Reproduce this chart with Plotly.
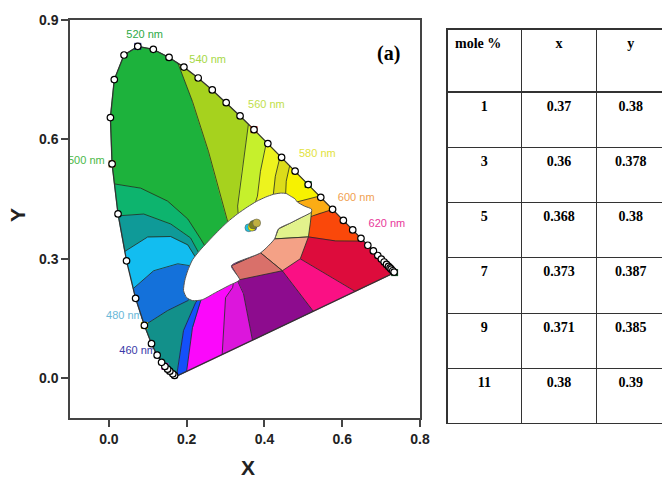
import numpy as np
import plotly.graph_objects as go

# ---------------- CIE 1931 spectral locus ----------------
LOCUS_WL = [380, 385, 390, 395, 400, 405, 410, 415, 420, 425, 430, 435, 440, 445, 450, 455,
            460, 465, 470, 475, 480, 485, 490, 495, 500, 505, 510, 515, 520, 525, 530, 535,
            540, 545, 550, 555, 560, 565, 570, 575, 580, 585, 590, 595, 600, 605, 610, 615,
            620, 625, 630, 635, 640, 645, 650, 655, 660, 665, 670, 675, 680, 685, 690, 695, 700]
LOCUS_X = [0.1741, 0.1740, 0.1738, 0.1736, 0.1733, 0.1730, 0.1726, 0.1721, 0.1714, 0.1703,
           0.1689, 0.1669, 0.1644, 0.1611, 0.1566, 0.1510, 0.1440, 0.1355, 0.1241, 0.1096,
           0.0913, 0.0687, 0.0454, 0.0235, 0.0082, 0.0039, 0.0139, 0.0389, 0.0743, 0.1142,
           0.1547, 0.1929, 0.2296, 0.2658, 0.3016, 0.3373, 0.3731, 0.4087, 0.4441, 0.4788,
           0.5125, 0.5448, 0.5752, 0.6029, 0.6270, 0.6482, 0.6658, 0.6801, 0.6915, 0.7006,
           0.7079, 0.7140, 0.7190, 0.7230, 0.7260, 0.7283, 0.7300, 0.7311, 0.7320, 0.7327,
           0.7334, 0.7340, 0.7344, 0.7346, 0.7347]
LOCUS_Y = [0.0050, 0.0050, 0.0049, 0.0049, 0.0048, 0.0048, 0.0048, 0.0048, 0.0051, 0.0058,
           0.0069, 0.0086, 0.0109, 0.0138, 0.0177, 0.0227, 0.0297, 0.0399, 0.0578, 0.0868,
           0.1327, 0.2007, 0.2950, 0.4127, 0.5384, 0.6548, 0.7502, 0.8120, 0.8338, 0.8262,
           0.8059, 0.7816, 0.7543, 0.7243, 0.6923, 0.6589, 0.6245, 0.5896, 0.5547, 0.5202,
           0.4866, 0.4544, 0.4242, 0.3965, 0.3725, 0.3514, 0.3340, 0.3197, 0.3083, 0.2993,
           0.2920, 0.2859, 0.2809, 0.2770, 0.2740, 0.2717, 0.2700, 0.2689, 0.2680, 0.2673,
           0.2666, 0.2660, 0.2656, 0.2654, 0.2653]

# markers along the locus
MARKER_WL = [430, 440, 450, 455, 460, 465, 470, 475, 480, 485, 490, 495, 500, 505, 510, 515,
             520, 525, 530, 535, 540, 545, 550, 555, 560, 565, 570, 575, 580, 585, 590, 595,
             600, 605, 610, 615, 620, 625, 630, 635, 640, 645, 650, 660, 680]
SPECIAL_WL = [460, 480, 500, 520, 560, 580, 700]
SPECIAL_COLORS = ["#ff10ff", "#e8e800", "#b07820", "#20208a", "#c02020", "#208040", "#105a25"]

# wavelength labels
LABEL_TEXT = ["520 nm", "540 nm", "560 nm", "580 nm", "600 nm", "620 nm", "500 nm", "480 nm", "460 nm"]
LABEL_X = [0.092, 0.254, 0.405, 0.536, 0.636, 0.715, -0.058, 0.040, 0.074]
LABEL_Y = [0.862, 0.800, 0.685, 0.562, 0.452, 0.388, 0.545, 0.155, 0.068]
LABEL_COLORS = ["#2eaa46", "#a6d846", "#bfe04a", "#e2e23c", "#f0a050", "#e8389a", "#4cb848",
                "#6ab8d8", "#3a3aa8"]

# ---------------- colour-name regions ----------------
# start of each region border on the outline (nm on the locus; 700-800 = along the purple line)
BORDER_START = [380, 480, 486.3, 491, 494.8, 498, 533, 558, 564.5, 569.5, 573, 584.5, 590, 607,
                718.1, 737.3, 765.2, 779.1, 795.4]
BORDER_PATHS = [
    [(0.192, 0.120), (0.223, 0.190)],
    [(0.151, 0.170), (0.203, 0.195)],
    [(0.115, 0.270), (0.177, 0.2875), (0.210, 0.2825)],
    [(0.100, 0.355), (0.159, 0.356), (0.203, 0.335), (0.222, 0.305)],
    [(0.0897, 0.4125), (0.159, 0.3875), (0.210, 0.3525), (0.231, 0.315)],
    [(0.082, 0.4775), (0.151, 0.445), (0.203, 0.400), (0.236, 0.350), (0.251, 0.325)],
    [(0.215, 0.695), (0.256, 0.570), (0.287, 0.4575), (0.305, 0.395)],
    [(0.3436, 0.5325), (0.331, 0.4325)],
    [(0.3897, 0.520), (0.382, 0.4575)],
    [(0.428, 0.5075), (0.423, 0.4625)],
    [(0.456, 0.495), (0.454, 0.4525)],
    [(0.505, 0.4475), (0.472, 0.440)],
    [(0.544, 0.415), (0.523, 0.4075)],
    [(0.582, 0.345), (0.513, 0.355)],
    [(0.492, 0.300)],
    [(0.446, 0.270)],
    [(0.346, 0.2125), (0.333, 0.240)],
    [(0.300, 0.2025), (0.318, 0.2275)],
    [(0.215, 0.1275), (0.236, 0.195)],
]
REGION_COLORS = ["#12908a", "#1471da", "#12bdf0", "#0f9a98", "#0db46e", "#1db23c", "#a6d21e",
                 "#c6f02c", "#edf31e", "#dcdc1a", "#f7f200", "#fbac14", "#fa480a", "#dd0c3c",
                 "#fa1084", "#8d0c8e", "#dc16dc", "#fb08fb", "#1450fa"]
HUB = (0.338, 0.325)

PALE_X = [0.426, 0.436, 0.467, 0.492, 0.521, 0.518, 0.513]
PALE_Y = [0.350, 0.375, 0.390, 0.4025, 0.4175, 0.390, 0.355]
PEACH_X = [0.390, 0.426, 0.513, 0.492, 0.446]
PEACH_Y = [0.315, 0.350, 0.355, 0.300, 0.270]
SALMON_X = [0.315, 0.390, 0.446, 0.336]
SALMON_Y = [0.2825, 0.315, 0.270, 0.2475]

BLOB_X = [0.215, 0.200, 0.192, 0.195, 0.2026, 0.215, 0.233, 0.254, 0.279, 0.305, 0.331, 0.356,
          0.380, 0.403, 0.423, 0.441, 0.456, 0.467, 0.478, 0.485, 0.5026,
          0.521, 0.521, 0.492, 0.467, 0.436, 0.426, 0.390, 0.315, 0.336, 0.308, 0.274, 0.240]
BLOB_Y = [0.195, 0.2025, 0.220, 0.245, 0.270, 0.2975, 0.320, 0.3425, 0.368, 0.3925, 0.413, 0.430,
          0.4445, 0.455, 0.462, 0.465, 0.464, 0.4575, 0.451, 0.4425, 0.4325,
          0.425, 0.4175, 0.4025, 0.390, 0.375, 0.350, 0.315, 0.2825, 0.2475, 0.2325,
          0.215, 0.197]

# ---------------- table ----------------
MOLE_PCT = ["1", "3", "5", "7", "9", "11"]
CIE_X = ["0.37", "0.36", "0.368", "0.373", "0.371", "0.38"]
CIE_Y = ["0.38", "0.378", "0.38", "0.387", "0.385", "0.39"]
POINT_COLORS = ["#1428ff", "#20c0e0", "#f0f000", "#30a030", "#808020", "#c0b040"]


def outline_point(s):
    if s <= 700:
        return float(np.interp(s, LOCUS_WL, LOCUS_X)), float(np.interp(s, LOCUS_WL, LOCUS_Y))
    t = (s - 700) / 100.0
    return (LOCUS_X[-1] + t * (LOCUS_X[0] - LOCUS_X[-1]),
            LOCUS_Y[-1] + t * (LOCUS_Y[0] - LOCUS_Y[-1]))


def outline_segment(sa, sb):
    pts = [outline_point(sa)]
    for w in LOCUS_WL:
        if sa < w < sb:
            pts.append(outline_point(w))
    pts.append(outline_point(sb))
    return pts


fig = go.Figure()

# labels first so that the diagram partly covers them
fig.add_trace(go.Scatter(x=LABEL_X, y=LABEL_Y, mode="text", text=LABEL_TEXT, cliponaxis=False,
                         textfont=dict(family="Liberation Sans", size=11, color=LABEL_COLORS),
                         hoverinfo="skip"))

n = len(BORDER_START)
for i in range(n):
    sa = BORDER_START[i]
    sb = BORDER_START[i + 1] if i + 1 < n else 800
    pb = BORDER_PATHS[(i + 1) % n]
    pa = BORDER_PATHS[i]
    poly = outline_segment(sa, sb) + pb + [HUB] + pa[::-1]
    fig.add_trace(go.Scatter(x=[p[0] for p in poly], y=[p[1] for p in poly], mode="lines",
                             fill="toself", fillcolor=REGION_COLORS[i],
                             line=dict(color=REGION_COLORS[i], width=1), hoverinfo="skip"))

bx, by = [], []
for i in range(n):
    pts = [outline_point(BORDER_START[i])] + BORDER_PATHS[i] + [HUB]
    bx += [p[0] for p in pts] + [None]
    by += [p[1] for p in pts] + [None]
fig.add_trace(go.Scatter(x=bx, y=by, mode="lines", line=dict(color="rgba(35,45,35,0.8)", width=1),
                         hoverinfo="skip"))

for xs, ys, col in [(PALE_X, PALE_Y, "#e2f28c"), (PEACH_X, PEACH_Y, "#f4a186"),
                    (SALMON_X, SALMON_Y, "#d9706a")]:
    fig.add_trace(go.Scatter(x=xs + xs[:1], y=ys + ys[:1], mode="lines", fill="toself",
                             fillcolor=col, line=dict(color="rgba(35,45,35,0.8)", width=1),
                             hoverinfo="skip"))

fig.add_trace(go.Scatter(x=BLOB_X + BLOB_X[:1], y=BLOB_Y + BLOB_Y[:1], mode="lines", fill="toself",
                         fillcolor="white", line=dict(color="#555", width=1, shape="spline",
                                                      smoothing=0.6),
                         hoverinfo="skip"))

# locus outline
ox = LOCUS_X + [LOCUS_X[0]]
oy = LOCUS_Y + [LOCUS_Y[0]]
fig.add_trace(go.Scatter(x=ox, y=oy, mode="lines", line=dict(color="#333", width=1.3),
                         hoverinfo="skip"))

mx = [outline_point(w)[0] for w in MARKER_WL]
my = [outline_point(w)[1] for w in MARKER_WL]
sx = [outline_point(w)[0] for w in SPECIAL_WL]
sy = [outline_point(w)[1] for w in SPECIAL_WL]
fig.add_trace(go.Scatter(x=sx, y=sy, mode="markers", cliponaxis=False,
                         marker=dict(symbol="square", size=7, color=SPECIAL_COLORS,
                                     line=dict(width=0)), hoverinfo="skip"))
fig.add_trace(go.Scatter(x=mx, y=my, mode="markers", cliponaxis=False,
                         marker=dict(symbol="circle", size=6.5, color="white",
                                     line=dict(color="black", width=1.2)), hoverinfo="skip"))

fig.add_trace(go.Scatter(x=[float(v) for v in CIE_X], y=[float(v) for v in CIE_Y], mode="markers",
                         marker=dict(size=8, color=POINT_COLORS, line=dict(color="#555", width=0.5)),
                         hoverinfo="skip"))

# table
fig.add_trace(go.Table(
    domain=dict(x=[447 / 665, 1.0], y=[1 - 424 / 478, 1 - 29 / 478]),
    columnwidth=[76, 76, 70],
    header=dict(values=["mole %", "x", "y"], align=["left", "center", "center"], height=63,
                fill_color="white", line=dict(color="#333", width=1.2),
                font=dict(family="Liberation Serif", size=14, color="black", weight="bold")),
    cells=dict(values=[MOLE_PCT, CIE_X, CIE_Y], align="center", height=55.3,
               fill_color="white", line=dict(color="#333", width=1.2),
               font=dict(family="Liberation Serif", size=14, color="black", weight="bold")),
))

axis_common = dict(showgrid=False, zeroline=False, showline=True, linecolor="#444", linewidth=1.5,
                   mirror=True, ticks="outside", ticklen=7, tickwidth=1.5, tickcolor="#444",
                   automargin=False,
                   tickfont=dict(family="Liberation Sans", size=14, color="#222", weight="bold"))
fig.update_xaxes(domain=[70 / 665, 420 / 665], range=[-0.1, 0.8],
                 tickvals=[0, 0.2, 0.4, 0.6, 0.8], ticktext=["0.0", "0.2", "0.4", "0.6", "0.8"],
                 **axis_common)
fig.update_yaxes(domain=[1 - 418 / 478, 1 - 20 / 478], range=[-0.1, 0.9],
                 tickvals=[0, 0.3, 0.6, 0.9], ticktext=["0.0", "0.3", "0.6", "0.9"],
                 **axis_common)

fig.update_layout(
    width=665, height=478, margin=dict(l=0, r=0, t=0, b=0),
    paper_bgcolor="white", plot_bgcolor="white", showlegend=False,
    annotations=[
        dict(text="X", xref="paper", yref="paper", x=248 / 665, y=1 - 467 / 478, showarrow=False,
             xanchor="center", yanchor="middle",
             font=dict(family="Liberation Sans", size=21, color="#222", weight="bold")),
        dict(text="Y", xref="paper", yref="paper", x=17 / 665, y=1 - 215 / 478, showarrow=False,
             xanchor="center", yanchor="middle", textangle=-90,
             font=dict(family="Liberation Sans", size=21, color="#222", weight="bold")),
        dict(text="(a)", xref="x", yref="y", x=0.718, y=0.815, showarrow=False,
             xanchor="center", yanchor="middle",
             font=dict(family="Liberation Serif", size=20, color="black", weight="bold")),
    ],
    shapes=[dict(type="rect", xref="paper", yref="paper", x0=662 / 665, x1=1.02,
                 y0=1 - 426 / 478, y1=1 - 27 / 478, fillcolor="white", line=dict(width=0),
                 layer="above")],
)

fig.write_html("out.html")
